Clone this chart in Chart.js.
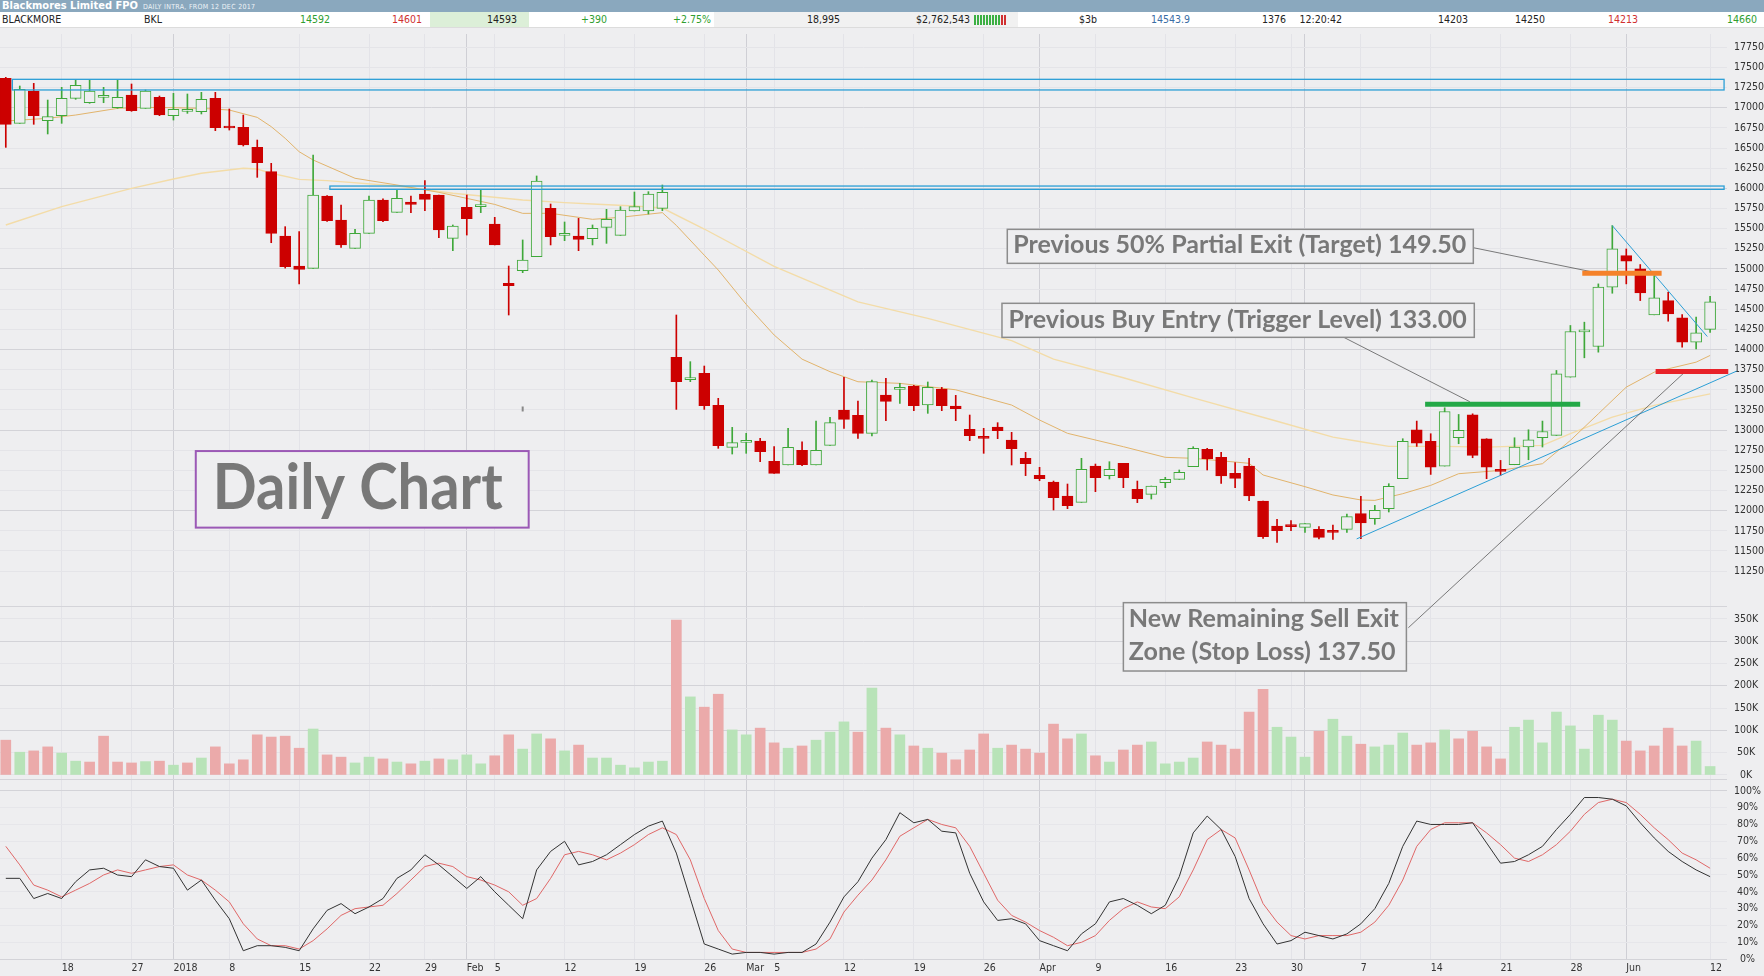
<!DOCTYPE html>
<html>
<head>
<meta charset="utf-8">
<title>Blackmores Limited FPO - Daily</title>
<script src="https://cdn.jsdelivr.net/npm/chart.js"></script>
<style>
  html, body { margin: 0; padding: 0; background: #eeeef0; }
  body { width: 1764px; height: 976px; overflow: hidden; position: relative;
         font-family: "Liberation Sans Narrow", "DejaVu Sans Condensed", "Liberation Sans", sans-serif; }
  #chart { position: absolute; left: 0; top: 0; }
  #hdr { position: absolute; left: 0; top: 0; width: 1764px; z-index: 2; }
  #titlebar { height: 12px; background: #8aa8be; color: #fff; font-size: 11px; line-height: 12px; white-space: nowrap; }
  #titlebar b { margin-left: 2px; }
  #titlebar span { font-size: 7px; color: #eef3f7; margin-left: 5px; letter-spacing: .3px; }
  #quote { position: relative; height: 15px; background: #fff; border-bottom: 1px solid #dcdcdc;
           font-size: 10.5px; line-height: 15px; color: #222; }
  #quote span, #quote i { position: absolute; top: 0; white-space: nowrap; font-style: normal; }
  #quote i { height: 15px; }
  #quote .g { color: #2f9e2f; }
  #quote .r { color: #d03030; }
  #quote .b { color: #3a6ea5; }
  #quote .bars b { display: inline-block; width: 2px; height: 10px; margin-right: 1px; background: #3cb043; vertical-align: middle; }
  #quote .bars b.dn { background: #d03030; }
</style>
</head>
<body>
<div id="hdr">
  <div id="titlebar"><b>Blackmores Limited FPO</b><span>DAILY INTRA, FROM 12 DEC 2017</span></div>
  <div id="quote">
    <i style="left:430px;width:99px;background:#dcefd8"></i>
    <i style="left:714px;width:304px;background:#f1f1f1"></i>
    <span style="left:2px">BLACKMORE</span>
    <span style="left:144px">BKL</span>
    <span class="g" style="right:1434px">14592</span>
    <span class="r" style="right:1342px">14601</span>
    <span style="right:1247px">14593</span>
    <span class="g" style="right:1157px">+390</span>
    <span class="g" style="right:1053px">+2.75%</span>
    <span style="right:924px">18,995</span>
    <span style="right:794px">$2,762,543</span>
    <span class="bars" style="left:974px"><b></b><b></b><b></b><b></b><b></b><b></b><b></b><b></b><b></b><b class="dn"></b><b class="dn"></b></span>
    <span style="right:667px">$3b</span>
    <span class="b" style="right:574px">14543.9</span>
    <span style="right:478px">1376</span>
    <span style="right:422px">12:20:42</span>
    <span style="right:296px">14203</span>
    <span style="right:219px">14250</span>
    <span class="r" style="right:126px">14213</span>
    <span class="g" style="right:7px">14660</span>
  </div>
</div>
<canvas id="chart" width="1764" height="976"></canvas>
<script>
// trading days shown (categories)
const dates = [
  ...'12 13 14 15 18 19 20 21 22 27 28 29'.split(' ').map(d => '2017-12-' + d),
  ...'02 03 04 05 08 09 10 11 12 15 16 17 18 19 22 23 24 25 29 30 31'.split(' ').map(d => '2018-01-' + d),
  ...'01 02 05 06 07 08 09 12 13 14 15 16 19 20 21 22 23 26 27 28'.split(' ').map(d => '2018-02-' + d),
  ...'01 02 05 06 07 08 09 12 13 14 15 16 19 20 21 22 23 26 27 28 29'.split(' ').map(d => '2018-03-' + d),
  ...'03 04 05 06 09 10 11 12 13 16 17 18 19 20 23 24 26 27 30'.split(' ').map(d => '2018-04-' + d),
  ...'01 02 03 04 07 08 09 10 11 14 15 16 17 18 21 22 23 24 25 28 29 30 31'.split(' ').map(d => '2018-05-' + d),
  ...'01 04 05 06 07 08 12'.split(' ').map(d => '2018-06-' + d)
];

const open = [
  17364, 16806, 17207, 16839, 16901, 17116, 17062, 17128, 17000, 17158, 16992, 17128,
  16901, 16955, 16951, 17116, 16752, 16756, 16508, 16206, 15408, 15036, 15007, 15904, 15607, 15255, 15441, 15855, 15702, 15830, 15929, 15917, 15379,
  15764, 15772, 15557, 14821, 14978, 15152, 15751, 15416, 15408, 15375, 15516, 15416, 15718, 15718, 15751, 13903, 13627, 13704, 13307, 12786,
  12847, 12865, 12612, 12567, 12749, 12567, 12811, 13249, 13183, 12960, 13435, 13506, 13547, 13311, 13510, 13299, 13009, 12918, 13038, 12877, 12650,
  12439, 12356, 12182, 12104, 12555, 12435, 12588, 12265, 12203, 12348, 12389, 12546, 12761, 12662, 12464, 12555, 12120, 11810, 11814,
  11793, 11769, 11748, 11769, 11963, 11901, 12025, 12397, 13004, 12860, 12554, 12905, 13190, 12893, 12500, 12570, 12790, 12905, 12934, 13657, 14219, 14037, 14773,
  15165, 15000, 14430, 14607, 14393, 14091, 14250
];
const high = [
  17377, 17269, 17302, 17095, 17253, 17344, 17344, 17253, 17344, 17294, 17220, 17145,
  17178, 17170, 17191, 17191, 16984, 16909, 16599, 16310, 15524, 15462, 16413, 15910, 15793, 15491, 15904, 15870, 15987, 15904, 16095, 15917, 15545,
  15917, 15987, 15640, 15036, 15359, 16153, 15805, 15582, 15627, 15545, 15739, 15772, 15954, 15958, 16041, 14428, 13849, 13795, 13394, 13034,
  12960, 12898, 12794, 13022, 12856, 13113, 13158, 13655, 13361, 13621, 13642, 13580, 13555, 13597, 13530, 13431, 13187, 13022, 13092, 12972, 12724,
  12538, 12368, 12331, 12650, 12579, 12608, 12588, 12368, 12306, 12414, 12505, 12794, 12774, 12724, 12596, 12650, 12120, 11893, 11876,
  11839, 11802, 11822, 11959, 12178, 12066, 12335, 12893, 13112, 12955, 13277, 13194, 13202, 12893, 12624, 12905, 13004, 13112, 13740, 14298, 14339, 14814, 15537,
  15248, 15054, 14917, 14711, 14434, 14401, 14660
];
const low = [
  16508, 16806, 16794, 16674, 16806, 17104, 17054, 17062, 16992, 16955, 16992, 16901,
  16847, 16930, 16922, 16715, 16723, 16525, 16136, 15325, 15010, 14813, 15007, 15590, 15267, 15255, 15441, 15586, 15702, 15697, 15722, 15387, 15226,
  15420, 15698, 15297, 14428, 14953, 15152, 15297, 15350, 15226, 15297, 15317, 15416, 15718, 15681, 15722, 13257, 13601, 13257, 12774, 12703,
  12712, 12608, 12463, 12567, 12559, 12567, 12811, 13022, 12898, 12927, 13117, 13332, 13241, 13208, 13241, 13117, 12869, 12712, 12894, 12567, 12435,
  12372, 12009, 12025, 12104, 12236, 12393, 12286, 12100, 12145, 12286, 12389, 12546, 12505, 12339, 12286, 12124, 11657, 11607, 11752,
  11731, 11649, 11645, 11731, 11653, 11831, 11984, 12397, 12798, 12450, 12554, 12831, 12657, 12397, 12438, 12570, 12632, 12790, 12934, 13657, 13897, 13967, 14698,
  14814, 14607, 14430, 14351, 14029, 14008, 14213
];
const close = [
  16794, 17228, 16901, 16889, 17116, 17277, 17207, 17145, 17128, 16963, 17207, 16909,
  16980, 16959, 17104, 16752, 16748, 16537, 16318, 15441, 15027, 14995, 15917, 15598, 15297, 15441, 15855, 15598, 15875, 15801, 15863, 15483, 15532,
  15623, 15780, 15297, 14792, 15110, 16091, 15400, 15441, 15367, 15503, 15615, 15731, 15772, 15929, 15950, 13601, 13635, 13303, 12807, 12844,
  12853, 12732, 12463, 12786, 12571, 12749, 13092, 13133, 12960, 13601, 13357, 13530, 13303, 13530, 13303, 13266, 12931, 12898, 12993, 12770, 12583,
  12397, 12162, 12062, 12513, 12410, 12513, 12410, 12149, 12306, 12389, 12476, 12774, 12645, 12430, 12402, 12182, 11678, 11752, 11802,
  11839, 11670, 11731, 11926, 11847, 12004, 12302, 12860, 12839, 12541, 13231, 12996, 12686, 12541, 12488, 12790, 12880, 12983, 13698, 14223, 14227, 14773, 15248,
  15095, 14702, 14640, 14442, 14091, 14207, 14592
];

// volume in thousands of shares
const volumeK = [
  78, 51, 54, 63, 49, 31, 29, 87, 29, 27, 30, 31,
  22, 27, 38, 63, 25, 34, 90, 85, 87, 60, 103, 45, 40, 27, 40, 36, 29, 25, 31, 36, 34,
  45, 25, 43, 90, 58, 92, 81, 54, 67, 38, 38, 22, 16, 29, 31, 347, 175, 152, 181, 101,
  90, 105, 72, 60, 65, 78, 96, 119, 96, 195, 105, 90, 65, 60, 49, 34, 56, 92, 60, 67, 58,
  49, 114, 81, 92, 43, 29, 56, 67, 74, 25, 29, 38, 74, 67, 58, 141, 192, 107, 85,
  40, 98, 125, 87, 69, 63, 67, 94, 67, 72, 101, 81, 98, 63, 36, 107, 123, 72, 141, 110, 58, 134, 123,
  76, 54, 65, 105, 65, 76, 19
];

// slow stochastic %K (black) and %D (red)
const stochK = [
  48, 48, 36, 39, 36, 46, 53, 54, 50, 49, 59, 55,
  54, 41, 47, 35, 24, 5, 8, 8, 7, 5, 18, 29, 33, 27, 31, 36, 48, 53, 62, 56, 49,
  42, 49, 40, 32, 24, 53, 64, 70, 56, 58, 62, 68, 74, 79, 82, 63, 36, 9, 6, 3,
  4, 4, 3, 4, 4, 9, 22, 37, 46, 60, 71, 87, 81, 83, 76, 75, 51, 34, 23, 24, 21,
  11, 8, 5, 15, 21, 34, 36, 32, 27, 32, 49, 75, 85, 77, 61, 36, 21, 9, 11,
  16, 14, 12, 15, 21, 30, 45, 67, 82, 80, 80, 80, 81, 69, 57, 58, 62, 67, 77, 86, 96, 96, 95,
  91, 81, 72, 64, 58, 53, 49
];
const stochD = [
  67, 56, 44, 41, 37, 41, 45, 50, 53, 51, 53, 55,
  56, 50, 47, 41, 34, 21, 12, 8, 8, 6, 11, 18, 26, 30, 31, 32, 39, 47, 55, 57, 55,
  49, 47, 44, 40, 32, 36, 48, 62, 64, 62, 59, 63, 68, 74, 78, 74, 59, 36, 17, 6,
  4, 4, 4, 4, 4, 6, 12, 28, 38, 47, 59, 73, 78, 83, 80, 78, 67, 51, 35, 26, 22,
  17, 13, 8, 10, 14, 23, 30, 34, 31, 30, 37, 53, 71, 77, 72, 53, 33, 22, 14,
  12, 14, 14, 14, 16, 22, 32, 47, 67, 77, 81, 81, 81, 75, 68, 60, 58, 62, 68, 76, 86, 93, 95,
  93, 86, 78, 71, 63, 59, 54
];

// moving averages: [day index, price]
const maFast = [
  [0, 16835], [3, 16868], [5, 16909], [8, 16992], [10, 17004], [12, 17000], [14, 16992], [16, 16971],
  [18, 16880], [19, 16765], [20, 16620], [21, 16454], [22, 16351], [25, 16124], [28, 16041], [31, 15950],
  [35, 15800], [37, 15689], [39, 15690], [42, 15615], [44, 15640], [47, 15698], [48, 15540], [50, 15170],
  [51, 14986], [53, 14560], [55, 14180], [57, 13880], [59, 13725], [61, 13600], [64, 13580], [68, 13500],
  [72, 13311], [74, 13125], [76, 12960], [80, 12794], [83, 12662], [85, 12650], [89, 12588], [90, 12443],
  [93, 12298], [95, 12195], [97, 12133], [98, 12128], [100, 12211], [102, 12314], [104, 12459], [107, 12500],
  [110, 12583], [112, 12872], [114, 13202], [116, 13533], [118, 13719], [121, 13843], [122, 13926]
];
const maSlow = [
  [0, 15545], [4, 15772], [9, 15999], [12, 16115], [14, 16186], [17, 16248], [18, 16239], [19, 16186],
  [21, 16111], [23, 16095], [28, 16029], [32, 15938], [37, 15855], [40, 15822], [42, 15805], [45, 15780],
  [47, 15755], [50, 15495], [55, 15030], [61, 14590], [66, 14387], [72, 14110], [75, 13880], [80, 13650],
  [85, 13400], [91, 13110], [95, 12913], [97, 12856], [99, 12798], [103, 12798], [106, 12789], [110, 12810],
  [112, 12955], [115, 13161], [118, 13306], [122, 13450]
];

const priceTicks = [11250, 11500, 11750, 12000, 12250, 12500, 12750, 13000, 13250, 13500, 13750, 14000, 14250, 14500,
  14750, 15000, 15250, 15500, 15750, 16000, 16250, 16500, 16750, 17000, 17250, 17500, 17750];
const volTicks = [0, 50, 100, 150, 200, 250, 300, 350];
const stochTicks = [0, 10, 20, 30, 40, 50, 60, 70, 80, 90, 100];
const xTickIdx  = [4, 9, 12, 16, 21, 26, 30, 33, 35, 40, 45, 50, 53, 55, 60, 65, 70, 74, 78, 83, 88, 92, 93, 97, 102, 107, 112, 116, 122];
const xTickText = ['18', '27', '2018', '8', '15', '22', '29', 'Feb', '5', '12', '19', '26', 'Mar', '5', '12', '19', '26', 'Apr',
  '9', '16', '23', '30', '', '7', '14', '21', '28', 'Jun', '12'];
const monthStartIdx = [12, 33, 53, 74, 93, 116];

// drawn-on annotations, in (day index, price) units
const zoneBoxes = [
  { x0: 0.47, x1: 123.0, p0: 17220, p1: 17352 },
  { x0: 23.2, x1: 123.0, p0: 15987, p1: 16028 }
];
const levelLines = [
  { x0: 112.85, x1: 118.53, p: 14946, color: '#f5822a' },
  { x0: 101.6, x1: 112.7, p: 13320, color: '#23a847' },
  { x0: 118.1, x1: 123.3, p: 13727, color: '#e82229' }
];
const trendLines = [
  { a: [96.7, 11650], b: [123.9, 13732] },
  { a: [115, 15537], b: [121.8, 14161] }
];
const leaderLines = [
  { a: [105.05, 15263], b: [113.5, 14965] },
  { a: [95.8, 14149], b: [104.8, 13352] },
  { a: [100.4, 10548], b: [120.1, 13705] }
];
const noteBoxes = [
  { x0: 71.69, x1: 105.05, top: 15491, bottom: 15069, lines: ['Previous 50% Partial Exit (Target) 149.50'],
    size: 24, padL: 6, padR: 7, base: 10, gap: 0, border: '#8c8c8c', bw: 1.5 },
  { x0: 71.31, x1: 105.12, top: 14573, bottom: 14151, lines: ['Previous Buy Entry (Trigger Level) 133.00'],
    size: 24, padL: 6.5, padR: 7.5, base: 9.6, gap: 0, border: '#8c8c8c', bw: 1.5 },
  { x0: 80.0, x1: 100.26, top: 10859, bottom: 10011, lines: ['New Remaining Sell Exit', 'Zone (Stop Loss) 137.50'],
    size: 24, padL: 5.5, padR: 7.5, base: 11, gap: 33.3, border: '#8c8c8c', bw: 1.5 },
  { x0: 13.6, x1: 37.43, top: 12740, bottom: 11790, lines: ['Daily Chart'],
    size: 64, padL: 17, padR: 26, base: 19, gap: 0, border: '#9b59b6', bw: 2 }
];

// relative heights of the three panels
const panelIds = ['y', 'yVol', 'yStoch'];
const panelWeights = [572, 173, 181];

const BG = '#eeeef0';
const UP = '#3fa83a';
const DN = '#cc0000';
const AXIS_W = 37;
const AXIS_FONT = { family: '"Liberation Sans Narrow", "DejaVu Sans Condensed", "Liberation Sans", sans-serif', size: 10.5 };

const idx = dates.map((d, i) => i);
const isUp = idx.map(i => close[i] >= open[i]);
const volUp = idx.map(i => (i === 0 ? isUp[0] : close[i] >= close[i - 1]));

function fitRightAxis(s) {
  s.width = AXIS_W;
  s.paddingTop = 0;
  s.paddingBottom = 0;
}

const overlay = {
  id: 'overlay',
  // pin the three stacked panels to fixed shares of the plot height
  afterLayout(chart) {
    const area = chart.chartArea;
    const total = panelWeights.reduce((a, b) => a + b, 0);
    let top = area.top;
    panelIds.forEach((id, k) => {
      const s = chart.scales[id];
      const h = (area.bottom - area.top) * panelWeights[k] / total;
      s.top = top;
      s.bottom = top + h;
      s.height = h;
      s.left = area.right;
      s.right = area.right + AXIS_W;
      s.width = AXIS_W;
      s.configure();
      top += h;
    });
  },
  beforeDraw(chart) {
    const { ctx, width, height } = chart;
    ctx.save();
    ctx.fillStyle = BG;
    ctx.fillRect(0, 0, width, height);
    ctx.restore();
  },
  beforeDatasetsDraw(chart) {
    const { ctx, chartArea, scales } = chart;
    ctx.save();
    ctx.strokeStyle = '#d4d4d9';
    ctx.lineWidth = 1;
    [scales.y.bottom, scales.yVol.bottom].forEach(yy => {
      const py = Math.round(yy) + 0.5;
      ctx.beginPath();
      ctx.moveTo(chartArea.left, py);
      ctx.lineTo(chartArea.right, py);
      ctx.stroke();
    });
    ctx.restore();
  },
  afterDatasetsDraw(chart) {
    const { ctx, scales } = chart;
    const X = v => scales.x.getPixelForValue(v);
    const Y = v => scales.y.getPixelForValue(v);
    ctx.save();

    // support / resistance zones
    ctx.strokeStyle = '#2c9fd6';
    ctx.lineWidth = 1.3;
    zoneBoxes.forEach(z => {
      ctx.strokeRect(X(z.x0), Y(z.p1), X(z.x1) - X(z.x0), Y(z.p0) - Y(z.p1));
    });

    // trend lines
    ctx.lineWidth = 1;
    trendLines.forEach(t => {
      ctx.beginPath();
      ctx.moveTo(X(t.a[0]), Y(t.a[1]));
      ctx.lineTo(X(t.b[0]), Y(t.b[1]));
      ctx.stroke();
    });

    // leader lines
    ctx.strokeStyle = '#5a5a5a';
    ctx.lineWidth = 0.8;
    leaderLines.forEach(t => {
      ctx.beginPath();
      ctx.moveTo(X(t.a[0]), Y(t.a[1]));
      ctx.lineTo(X(t.b[0]), Y(t.b[1]));
      ctx.stroke();
    });

    // entry / target / stop levels
    ctx.lineWidth = 5;
    levelLines.forEach(l => {
      ctx.strokeStyle = l.color;
      ctx.beginPath();
      ctx.moveTo(X(l.x0), Y(l.p));
      ctx.lineTo(X(l.x1), Y(l.p));
      ctx.stroke();
    });

    // small stray mark
    ctx.strokeStyle = '#888';
    ctx.lineWidth = 2;
    ctx.beginPath();
    ctx.moveTo(X(37), Y(13293));
    ctx.lineTo(X(37), Y(13231));
    ctx.stroke();

    // note boxes
    noteBoxes.forEach(b => {
      const x0 = X(b.x0), x1 = X(b.x1), y0 = Y(b.top), y1 = Y(b.bottom);
      ctx.fillStyle = BG;
      ctx.fillRect(x0, y0, x1 - x0, y1 - y0);
      ctx.strokeStyle = b.border;
      ctx.lineWidth = b.bw;
      ctx.strokeRect(x0, y0, x1 - x0, y1 - y0);
      ctx.font = 'bold ' + b.size + 'px Lato, "Open Sans", sans-serif';
      ctx.fillStyle = '#787878';
      ctx.textBaseline = 'alphabetic';
      ctx.textAlign = 'left';
      const widest = Math.max(...b.lines.map(t => ctx.measureText(t).width));
      const k = (x1 - x0 - b.padL - b.padR) / widest;
      const n = b.lines.length;
      b.lines.forEach((t, j) => {
        const by = y1 - b.base - (n - 1 - j) * b.gap;
        ctx.save();
        ctx.translate(x0 + b.padL, by);
        ctx.scale(k, 1);
        ctx.fillText(t, 0, 0);
        ctx.restore();
      });
    });
    ctx.restore();
  }
};

const ctx = document.getElementById('chart').getContext('2d');
const chart = new Chart(ctx, {
  type: 'bar',
  data: {
    datasets: [
      {
        label: 'Wick',
        data: idx.map(i => ({ x: i, y: [low[i], high[i]] })),
        backgroundColor: idx.map(i => (isUp[i] ? UP : DN)),
        barThickness: 1,
        grouped: false,
        yAxisID: 'y',
        order: 3
      },
      {
        label: 'Body',
        data: idx.map(i => ({ x: i, y: [open[i], close[i]] })),
        backgroundColor: idx.map(i => (isUp[i] ? BG : DN)),
        borderColor: idx.map(i => (isUp[i] ? UP : DN)),
        borderWidth: 1,
        borderSkipped: false,
        barThickness: 11,
        minBarLength: 2,
        grouped: false,
        yAxisID: 'y',
        order: 2
      },
      {
        type: 'line',
        label: 'MA fast',
        data: maFast.map(([x, y]) => ({ x, y })),
        borderColor: '#e2b46c',
        borderWidth: 1,
        pointRadius: 0,
        yAxisID: 'y',
        order: 6
      },
      {
        type: 'line',
        label: 'MA slow',
        data: maSlow.map(([x, y]) => ({ x, y })),
        borderColor: '#f3dca8',
        borderWidth: 1.4,
        pointRadius: 0,
        yAxisID: 'y',
        order: 7
      },
      {
        label: 'Volume',
        data: idx.map(i => ({ x: i, y: volumeK[i] })),
        backgroundColor: idx.map(i => (volUp[i] ? '#b8e3b8' : '#ebaaaa')),
        barThickness: 10,
        grouped: false,
        yAxisID: 'yVol',
        order: 4
      },
      {
        type: 'line',
        label: '%D',
        data: idx.map(i => ({ x: i, y: stochD[i] })),
        borderColor: '#e06868',
        borderWidth: 1,
        pointRadius: 0,
        yAxisID: 'yStoch',
        order: 1
      },
      {
        type: 'line',
        label: '%K',
        data: idx.map(i => ({ x: i, y: stochK[i] })),
        borderColor: '#333333',
        borderWidth: 1,
        pointRadius: 0,
        yAxisID: 'yStoch',
        order: 0
      }
    ]
  },
  options: {
    responsive: false,
    animation: false,
    devicePixelRatio: 1,
    events: [],
    layout: { padding: { top: 34, left: 0, right: 0, bottom: 0 }, autoPadding: false },
    plugins: { legend: { display: false }, tooltip: { enabled: false } },
    scales: {
      x: {
        type: 'linear',
        position: 'bottom',
        min: -0.415,
        max: 123.21,
        offset: false,
        afterBuildTicks: s => { s.ticks = xTickIdx.map(v => ({ value: v })); },
        afterFit: s => { s.height = 16; s.paddingLeft = 0; s.paddingRight = 0; },
        grid: {
          offset: false,
          drawTicks: false,
          color: c => (monthStartIdx.includes(c.tick.value) ? '#cfcfd5' : '#e3e3e8')
        },
        border: { display: false },
        ticks: {
          autoSkip: false,
          maxRotation: 0,
          align: 'start',
          padding: 2,
          color: '#333',
          font: AXIS_FONT,
          callback: (v, i) => xTickText[i]
        }
      },
      y: {
        type: 'linear',
        position: 'right',
        stack: 'panels',
        stackWeight: 572,
        min: 10817.6,
        max: 17914.4,
        afterBuildTicks: s => { s.ticks = priceTicks.map(v => ({ value: v })); },
        afterFit: fitRightAxis,
        grid: { drawTicks: false, color: c => (c.tick.value % 1000 === 0 ? '#d3d3d8' : '#e4e4e8') },
        border: { display: false },
        ticks: { autoSkip: false, padding: 7, crossAlign: 'center', color: '#333', font: AXIS_FONT, callback: v => String(v) }
      },
      yVol: {
        type: 'linear',
        position: 'right',
        stack: 'panels',
        stackWeight: 173,
        min: -9,
        max: 378.7,
        afterBuildTicks: s => { s.ticks = volTicks.map(v => ({ value: v })); },
        afterFit: fitRightAxis,
        grid: { drawTicks: false, color: c => (c.tick.value % 100 === 0 && c.tick.value > 0 ? '#d3d3d8' : '#e4e4e8') },
        border: { display: false },
        ticks: { autoSkip: false, padding: 7, crossAlign: 'center', color: '#333', font: AXIS_FONT, callback: v => v + 'K' }
      },
      yStoch: {
        type: 'linear',
        position: 'right',
        stack: 'panels',
        stackWeight: 181,
        min: -0.5,
        max: 107,
        afterBuildTicks: s => { s.ticks = stochTicks.map(v => ({ value: v })); },
        afterFit: fitRightAxis,
        grid: { drawTicks: false, color: c => (c.tick.value === 100 || c.tick.value === 0 ? '#d3d3d8' : '#e6e6ea') },
        border: { display: false },
        ticks: { autoSkip: false, padding: 7, crossAlign: 'center', color: '#333', font: AXIS_FONT, callback: v => v + '%' }
      }
    }
  },
  plugins: [overlay]
});
</script>
</body>
</html>
